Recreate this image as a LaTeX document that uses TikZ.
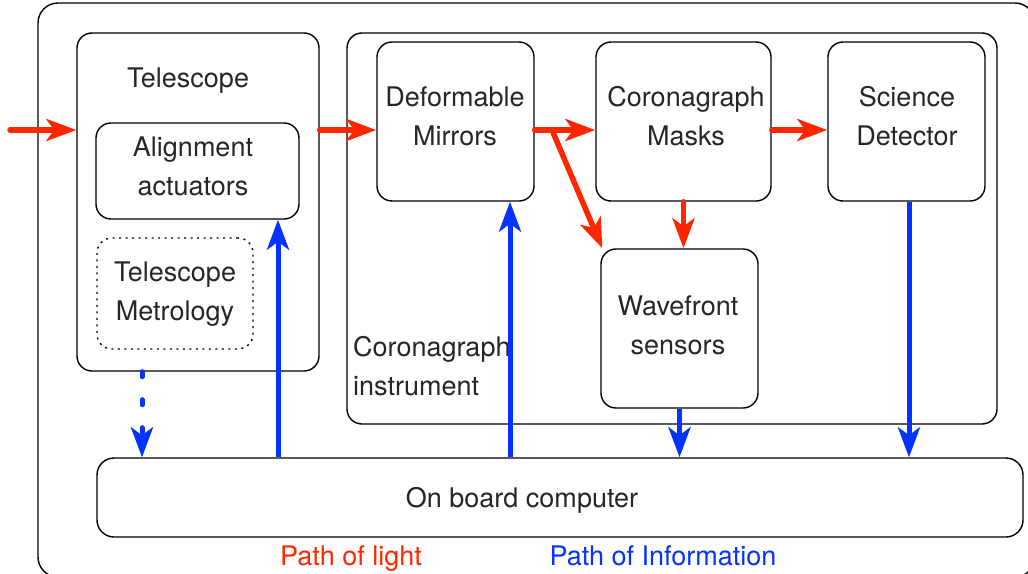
\documentclass[tikz,border=0pt]{standalone}
\usepackage{fontspec}
\setmainfont{TeX Gyre Heros}
\usetikzlibrary{arrows.meta}
\definecolor{lightred}{RGB}{255,38,0}
\definecolor{infoblue}{RGB}{4,51,255}
\begin{document}
\begin{tikzpicture}[x=1pt,y=-1pt,
  box/.style={draw, line width=1.4pt, rounded corners=15pt, inner sep=0pt},
  txt/.style={font=\fontsize{27}{39}\selectfont, text=black!85, align=center, inner sep=0pt},
  lightpath/.style={draw=lightred, line width=5.5pt, line cap=round,
    -{Stealth[length=30pt,width=22pt,inset=8pt]}},
  infopath/.style={draw=infoblue, line width=5pt,
    -{Stealth[length=30pt,width=22pt,inset=8pt]}},
]
\useasboundingbox (0,0) rectangle (1028,573);
\clip (0,0) rectangle (1028,573);

% boxes
\node[box, rounded corners=20pt, minimum width=997pt, minimum height=574pt] (outer) at (536.5,290) {};
\node[box, minimum width=242pt, minimum height=338pt] (tele) at (198,202) {};
\node[box, minimum width=203pt, minimum height=96pt] (aa) at (197.5,171) {};
\node[box, dash pattern=on 2pt off 4.5pt, minimum width=156pt, minimum height=111pt] (tm) at (175,293.5) {};
\node[box, minimum width=650pt, minimum height=391pt] (ci) at (672,228.5) {};
\node[box, minimum width=157pt, minimum height=159pt] (dm) at (455.5,121.5) {};
\node[box, minimum width=175pt, minimum height=159pt] (cm) at (683.5,121.5) {};
\node[box, minimum width=157pt, minimum height=159pt] (sd) at (906.5,121.5) {};
\node[box, minimum width=157pt, minimum height=159pt] (wfs) at (679.5,328.5) {};
\node[box, rounded corners=17pt, minimum width=926pt, minimum height=79pt] (obc) at (560,497.5) {};

% texts
\node[txt, anchor=base] (teletxt) at (188,87) {Telescope};
\node[txt] (aatxt) at (193,166) {Alignment\\actuators};
\node[txt] (tmtxt) at (175,294) {Telescope\\Metrology};
\node[txt] (dmtxt) at (455,116) {Deformable\\Mirrors};
\node[txt] (cmtxt) at (686,116) {Coronagraph\\Masks};
\node[txt] (sdtxt) at (907,116) {Science\\Detector};
\node[txt] (wfstxt) at (678,325) {Wavefront\\sensors};
\node[txt, align=left, anchor=west] (citxt) at (353,366.5) {Coronagraph\\instrument};
\node[txt, anchor=base] (obctxt) at (522,507) {On board computer};
\node[txt, anchor=base, text=lightred] (leglight) at (351,565) {Path of light};
\node[txt, anchor=base, text=infoblue] (leginfo) at (663,565) {Path of Information};

% light path
\coordinate (lin) at (10,130);
\coordinate (split) at (552,130);
\draw[lightpath] (lin) -- (lin -| tele.west);
\draw[lightpath] (lin -| tele.east) -- (lin -| dm.west);
\draw[lightpath] (lin -| dm.east) -- (lin -| cm.west);
\draw[lightpath] (split) -- ([xshift=2pt]wfs.north west);
\draw[lightpath] (cm.south) -- (cm.south |- wfs.north);
\draw[lightpath] (lin -| cm.east) -- (lin -| sd.west);

% information path
\coordinate (xa) at (142,0);
\coordinate (xb) at (278,0);
\coordinate (xc) at (510,0);
\coordinate (xd) at (909,0);
\draw[infopath, line cap=round, dash pattern=on 5pt off 23pt] (xa |- tele.south) -- (xa |- obc.north);
\draw[infopath] (xb |- obc.north) -- (xb |- aa.south);
\draw[infopath] (xc |- obc.north) -- (xc |- dm.south);
\draw[infopath] (wfs.south) -- (wfs.south |- obc.north);
\draw[infopath] (xd |- sd.south) -- (xd |- obc.north);
\end{tikzpicture}
\end{document}
